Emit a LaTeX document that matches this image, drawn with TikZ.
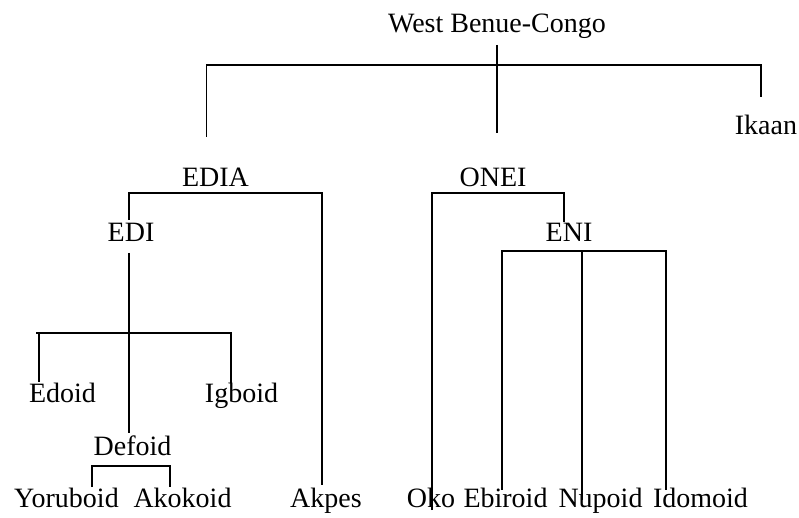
\documentclass[tikz,border=0pt]{standalone}
\usepackage{fontspec}
\setmainfont{Liberation Serif}
\begin{document}
\begin{tikzpicture}[x=1pt,y=-1pt,
  lang/.style={anchor=base,inner sep=0pt,font=\fontsize{28}{30}\selectfont},
  branch/.style={line width=1.3pt,line cap=butt,line join=miter}]
\useasboundingbox[fill=white] (0,0) rectangle (799,518);

% labels
\node[lang] (wbc)   at (497,33)  {West Benue-Congo};
\node[lang] (ikaan) at (766,135) {Ikaan};
\node[lang] (edia)  at (215.5,187) {EDIA};
\node[lang] (onei)  at (493,187) {ONEI};
\node[lang] (edi)   at (131,242) {EDI};
\node[lang] (eni)   at (569,242) {ENI};
\node[lang] (edoid) at (62.5,402) {Edoid};
\node[lang] (igboid) at (241.5,402) {Igboid};
\node[lang] (defoid) at (132.5,455) {Defoid};
\node[lang] (yoruboid) at (66.5,507) {Yoruboid};
\node[lang] (akokoid) at (182.5,507) {Akokoid};
\node[lang] (akpes) at (326,507) {Akpes};
\node[lang] (oko) at (431,507) {Oko};
\node[lang] (ebiroid) at (505.5,507) {Ebiroid};
\node[lang] (nupoid) at (600.5,507) {Nupoid};
\node[lang] (idomoid) at (700.5,507) {Idomoid};

% junction points and branch ends
\coordinate (wbcTop) at (497,45);
\coordinate (wbcEnd) at (497,133);
\coordinate (wbcL) at (206.7,65);
\coordinate (wbcR) at (761,65);
\coordinate (wbcLEnd) at (206.7,137);
\coordinate (ikaanTop) at (761,97);

\coordinate (ediaL) at (129,193);
\coordinate (ediaR) at (322,193);
\coordinate (ediTop) at (129,220);
\coordinate (akpesTop) at (322,485);

\coordinate (ediLow) at (129,253);
\coordinate (ediBarL) at (36,333);
\coordinate (ediBarR) at (231,333);
\coordinate (edoidBar) at (39,333);
\coordinate (edoidTop) at (39,382);
\coordinate (igboidTop) at (231,383);
\coordinate (defoidTop) at (129,433);

\coordinate (defL) at (92,466);
\coordinate (defR) at (170,466);
\coordinate (yoruTop) at (92,487);
\coordinate (akokTop) at (170,487);

\coordinate (oneiL) at (432,193);
\coordinate (oneiR) at (564,193);
\coordinate (okoEnd) at (432,510);
\coordinate (eniTop) at (564,222);

\coordinate (eniL) at (502,251);
\coordinate (eniM) at (582,251);
\coordinate (eniR) at (666,251);
\coordinate (ebiTop) at (502,490);
\coordinate (nupTop) at (582,500);
\coordinate (idoTop) at (666,490);

% West Benue-Congo
\draw[branch] (wbcTop) -- (wbcEnd);
\draw[branch] (wbcLEnd) -- (wbcL) -- (wbcR) -- (ikaanTop);

% EDIA
\draw[branch] (ediTop) -- (ediaL) -- (ediaR) -- (akpesTop);

% EDI
\draw[branch] (ediLow) -- (defoidTop);
\draw[branch] (ediBarL) -- (ediBarR) -- (igboidTop);
\draw[branch] (edoidBar) -- (edoidTop);

% Defoid
\draw[branch] (yoruTop) -- (defL) -- (defR) -- (akokTop);

% ONEI
\draw[branch] (okoEnd) -- (oneiL) -- (oneiR) -- (eniTop);

% ENI
\draw[branch] (ebiTop) -- (eniL) -- (eniR) -- (idoTop);
\draw[branch] (eniM) -- (nupTop);
\end{tikzpicture}
\end{document}
